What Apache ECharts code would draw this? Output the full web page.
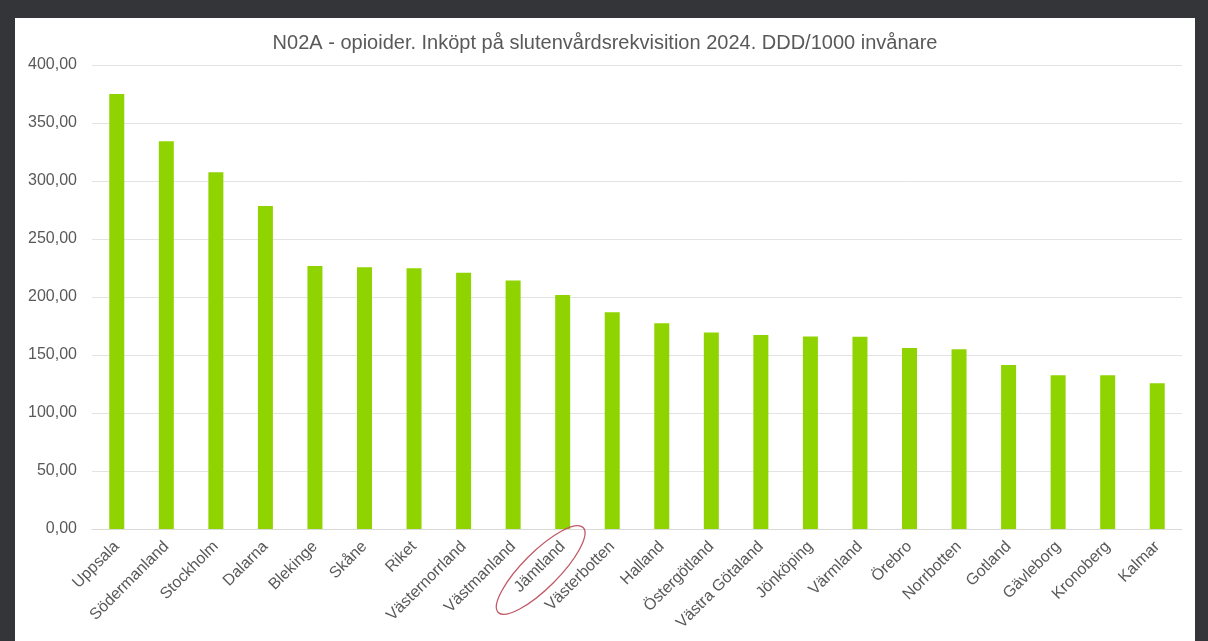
<!DOCTYPE html>
<html>
<head>
<meta charset="utf-8">
<script src="https://cdn.jsdelivr.net/npm/echarts@6/dist/echarts.min.js"></script>
<style>
  html, body { margin: 0; padding: 0; width: 1208px; height: 641px; background: #333538; overflow: hidden; }
  #chart { position: absolute; left: 15px; top: 18px; width: 1180px; height: 623px; background: #ffffff; }
</style>
</head>
<body>
<div id="chart"></div>
<script>
const titleText = 'N02A - opioider. Inköpt på slutenvårdsrekvisition 2024. DDD/1000 invånare';
const categories = ['Uppsala', 'Södermanland', 'Stockholm', 'Dalarna', 'Blekinge', 'Skåne', 'Riket',
  'Västernorrland', 'Västmanland', 'Jämtland', 'Västerbotten', 'Halland', 'Östergötland',
  'Västra Götaland', 'Jönköping', 'Värmland', 'Örebro', 'Norrbotten', 'Gotland', 'Gävleborg',
  'Kronoberg', 'Kalmar'];
const values = [375.0, 334.2, 307.5, 278.4, 226.8, 225.7, 224.8, 221.0, 214.2, 201.8, 186.8, 177.3,
  169.3, 167.3, 165.9, 165.8, 156.0, 155.0, 141.4, 132.6, 132.5, 125.6];
const yTicks = { min: 0, max: 400, interval: 50 };
const highlighted = 'Jämtland';

const chart = echarts.init(document.getElementById('chart'));
chart.setOption({
  animation: false,
  backgroundColor: '#ffffff',
  title: {
    text: titleText,
    left: 'center',
    top: 10,
    textStyle: { fontFamily: 'Liberation Sans, Arial, sans-serif', fontSize: 20, fontWeight: 'normal', color: '#595959' }
  },
  grid: { left: 77, right: 13, top: 47, bottom: 112, containLabel: false },
  xAxis: {
    type: 'category',
    data: categories,
    axisLine: { show: true, lineStyle: { color: '#d9d9d9' } },
    axisTick: { show: false },
    axisLabel: {
      interval: 0,
      rotate: 45,
      margin: 15,
      color: '#595959',
      fontFamily: 'Liberation Sans, Arial, sans-serif',
      fontSize: 16
    }
  },
  yAxis: {
    type: 'value',
    min: yTicks.min,
    max: yTicks.max,
    interval: yTicks.interval,
    axisLine: { show: false },
    axisTick: { show: false },
    splitLine: { lineStyle: { color: '#e3e3e3', width: 1 } },
    axisLabel: {
      margin: 15,
      color: '#595959',
      fontFamily: 'Liberation Sans, Arial, sans-serif',
      fontSize: 16,
      formatter: v => v.toFixed(2).replace('.', ',')
    }
  },
  series: [{
    type: 'bar',
    data: values,
    barWidth: 15,
    itemStyle: { color: '#8fd400' }
  }]
});

// Annotation ellipse around the highlighted category label
const p = chart.convertToPixel({ xAxisIndex: 0, yAxisIndex: 0 }, [highlighted, 0]);
chart.setOption({
  graphic: [{
    type: 'ellipse',
    shape: { cx: 0, cy: 0, rx: 60, ry: 18 },
    x: p[0] - 22,
    y: p[1] + 41,
    rotation: Math.PI / 4,
    style: { fill: 'none', stroke: '#c05a66', lineWidth: 1.3 },
    z: 100
  }]
});
</script>
</body>
</html>
